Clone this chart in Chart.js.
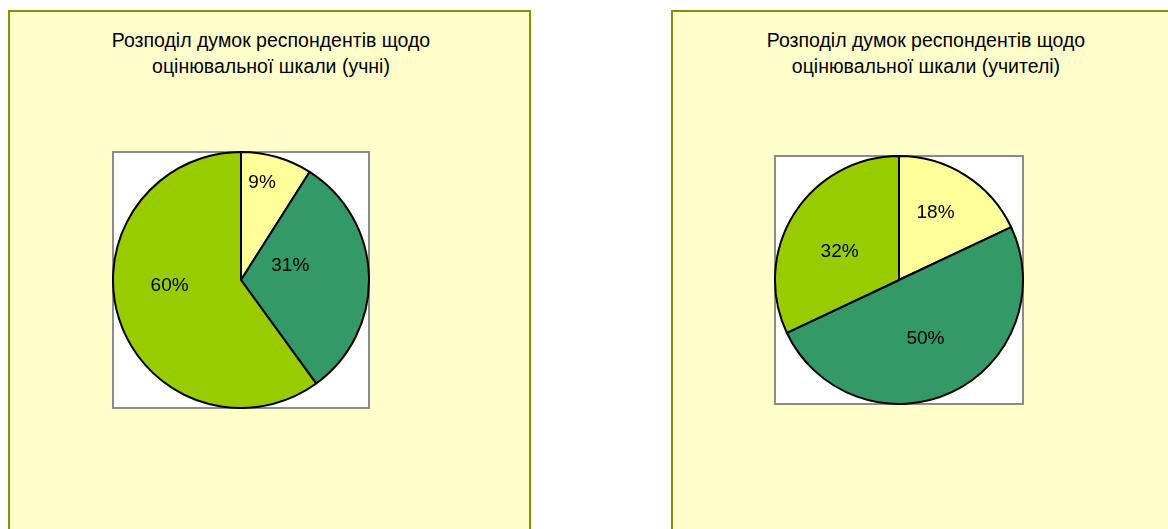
<!DOCTYPE html>
<html>
<head>
<meta charset="utf-8">
<script src="https://cdn.jsdelivr.net/npm/chart.js@4/dist/chart.umd.min.js"></script>
<style>
	body { margin: 0; background: #fff; width: 1168px; height: 529px; overflow: hidden; position: relative; font-family: "Liberation Sans", Arial, sans-serif; }
	.panel { position: absolute; top: 10px; height: 540px; background: #ffffcc; border: 2px solid #8c8c00; box-sizing: border-box; }
	.title { position: absolute; width: 420px; text-align: center; font-size: 19.5px; line-height: 26px; color: #000; }
	.pie { position: absolute; }
</style>
</head>
<body>
<div class="panel" style="left:8px; width:523px;"></div>
<div class="panel" style="left:671px; width:523px;"></div>
<div class="title" style="left:61px; top:27px;">Розподіл думок респондентів щодо<br>оцінювальної шкали (учні)</div>
<div class="title" style="left:716px; top:27px;">Розподіл думок респондентів щодо<br>оцінювальної шкали (учителі)</div>
<canvas id="pupilsChart" class="pie" width="258" height="258" style="left:112px; top:151px;"></canvas>
<canvas id="teachersChart" class="pie" width="250" height="250" style="left:774px; top:155px;"></canvas>
<script>
// Shares, in percent, going clockwise from 12 o'clock
const pupilsValues = [9, 31, 60];
const teachersValues = [18, 50, 32];
const sliceColors = ['#ffff99', '#339966', '#99cc00'];

// Where each percent label sits: [fraction of radius, turn from slice middle in degrees]
const pupilsLabelPlace = [[0.78, -4], [0.40, -14], [0.56, 13]];
const teachersLabelPlace = [[0.62, -4], [0.52, 1], [0.53, -7]];

// White plot box with grey frame behind the pie
const plotBox = {
	id: 'plotBox',
	beforeDraw(chart) {
		const c = chart.ctx;
		c.save();
		c.fillStyle = '#fff';
		c.fillRect(0, 0, chart.width, chart.height);
		c.strokeStyle = '#8c8c8c';
		c.lineWidth = 2;
		c.strokeRect(1, 1, chart.width - 2, chart.height - 2);
		c.restore();
	}
};

// Percent text inside the slices
const percentLabels = {
	id: 'percentLabels',
	afterDatasetsDraw(chart, args, opts) {
		const c = chart.ctx;
		const values = chart.data.datasets[0].data;
		c.save();
		c.font = '19px "Liberation Sans", Arial, sans-serif';
		c.fillStyle = '#000';
		c.textAlign = 'center';
		c.textBaseline = 'middle';
		chart.getDatasetMeta(0).data.forEach((arc, i) => {
			const p = arc.getProps(['x', 'y', 'startAngle', 'endAngle', 'outerRadius'], true);
			const place = opts.place[i];
			const a = (p.startAngle + p.endAngle) / 2 + place[1] * Math.PI / 180;
			const r = p.outerRadius * place[0];
			c.fillText(values[i] + '%', p.x + Math.cos(a) * r, p.y + Math.sin(a) * r);
		});
		c.restore();
	}
};

function makePie(id, values, place) {
	return new Chart(document.getElementById(id), {
		type: 'pie',
		data: {
			datasets: [{
				data: values,
				backgroundColor: sliceColors,
				borderColor: '#000',
				borderWidth: 2,
				hoverOffset: 0
			}]
		},
		options: {
			responsive: false,
			animation: false,
			layout: { padding: 0 },
			plugins: {
				legend: { display: false },
				tooltip: { enabled: false },
				percentLabels: { place: place }
			}
		},
		plugins: [plotBox, percentLabels]
	});
}

makePie('pupilsChart', pupilsValues, pupilsLabelPlace);
makePie('teachersChart', teachersValues, teachersLabelPlace);
</script>
</body>
</html>
